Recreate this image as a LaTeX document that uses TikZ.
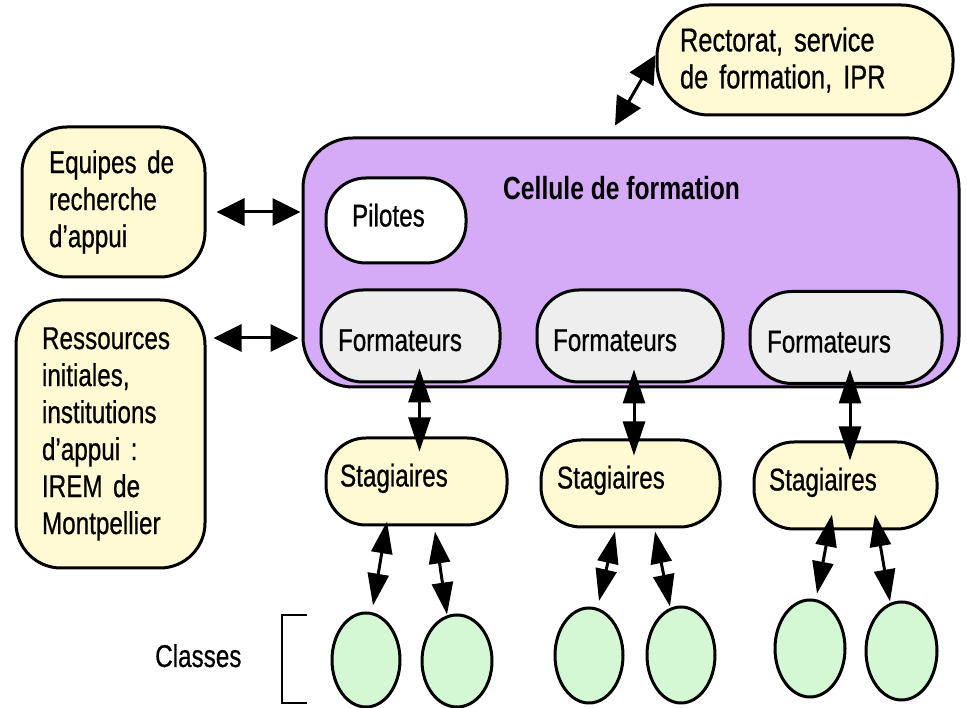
\documentclass[tikz,border=0pt]{standalone}
\usepackage{fontspec}
\setmainfont{Liberation Sans}[FakeStretch=0.77]
\newfontfamily\heavy{Liberation Sans}[FakeStretch=0.77,FakeBold=0.6]
\usetikzlibrary{arrows.meta,shapes.geometric}
\definecolor{creme}{RGB}{255,250,212}
\definecolor{lilas}{RGB}{213,170,247}
\definecolor{gris}{RGB}{238,238,238}
\definecolor{vert}{RGB}{212,248,212}
\tikzset{
  txt/.style={font=\heavy\fontsize{31.5}{37}\selectfont},
  box/.style={txt, draw=black, line width=3pt, align=left, inner ysep=0pt},
  onel/.style={text height=#1, text depth=0pt},
  arrH/.style={line width=3pt, {Triangle[length=28pt,width=27pt]}-{Triangle[length=28pt,width=27pt]}},
  arrV/.style={line width=3pt, {Triangle[length=34pt,width=22pt]}-{Triangle[length=34pt,width=22pt]}},
  arrS/.style={line width=3pt, {Triangle[length=32pt,width=21pt]}-{Triangle[length=32pt,width=21pt]}},
  classe/.style={ellipse, draw=black, line width=3pt, fill=vert, inner sep=0pt},
}
\begin{document}
\begin{tikzpicture}[x=1pt,y=1pt]
\useasboundingbox (0,0) rectangle (967,708);

% main cell
\node[box, fill=lilas, rounded corners=50pt, minimum width=656pt, minimum height=249pt] (cellule) at (631,445.5) {};
\node[font=\bfseries\fontsize{32}{37}\selectfont, anchor=base west, inner sep=0pt] (titre) at (503,508) {Cellule de formation};

\node[box, fill=white, rounded corners=40pt, minimum width=140pt, minimum height=85pt, inner xsep=26pt, text width=88pt, text height=22pt, text depth=10pt] (pil) at (396,487.5) {Pilotes};

\node[box, fill=gris, rounded corners=42pt, minimum width=179pt, minimum height=92pt, inner xsep=17pt, text width=145pt, onel=30pt] (form1) at (410.5,372) {Formateurs};
\node[box, fill=gris, rounded corners=42pt, minimum width=186pt, minimum height=92pt, inner xsep=16pt, text width=154pt, onel=30pt] (form2) at (630,372) {Formateurs};
\node[box, fill=gris, rounded corners=42pt, minimum width=192pt, minimum height=92pt, inner xsep=17pt, text width=158pt, onel=30pt] (form3) at (846,370.5) {Formateurs};

% stagiaires
\node[box, fill=creme, rounded corners=40pt, minimum width=181pt, minimum height=87pt, inner xsep=14pt, text width=153pt, text height=20pt, text depth=10pt] (st1) at (416.5,226.5) {Stagiaires};
\node[box, fill=creme, rounded corners=40pt, minimum width=179pt, minimum height=87pt, inner xsep=16pt, text width=147pt, text height=20pt, text depth=10pt] (st2) at (630.5,224.5) {Stagiaires};
\node[box, fill=creme, rounded corners=40pt, minimum width=183pt, minimum height=87pt, inner xsep=15pt, text width=153pt, text height=20pt, text depth=10pt] (st3) at (845.5,222.5) {Stagiaires};

% left boxes
\node[box, fill=creme, rounded corners=45pt, minimum width=183pt, minimum height=150pt, inner xsep=27pt, text width=129pt] (equipes) at (113.5,506) {Equipes de\\recherche\\d’appui};
\node[box, fill=creme, rounded corners=45pt, minimum width=189pt, minimum height=268pt, inner xsep=26pt, text width=137pt] (ress) at (110.5,274) {Ressources\\initiales,\\institutions\\d’appui :\\IREM de\\Montpellier};
\node[box, font=\heavy\fontsize{33}{37}\selectfont, fill=creme, rounded corners=52pt, minimum width=296pt, minimum height=110pt, inner xsep=23pt, text width=250pt] (rect) at (805,648) {Rectorat, service\\de formation, IPR};

% classes
\node[classe, minimum width=68pt, minimum height=94pt] (c1) at (366,48) {};
\node[classe, minimum width=70pt, minimum height=92pt] (c2) at (457,47) {};
\node[classe, minimum width=68pt, minimum height=95pt] (c3) at (589,52.5) {};
\node[classe, minimum width=68pt, minimum height=96pt] (c4) at (681,53) {};
\node[classe, minimum width=70pt, minimum height=97pt] (c5) at (810,59.5) {};
\node[classe, minimum width=71pt, minimum height=98pt] (c6) at (901.5,57) {};

\node[txt, anchor=base west, inner sep=0pt] (classes) at (155,41) {Classes};
\draw[line width=2.5pt] (307,93) -- (282,93) -- (282,5) -- (307,5);

% connectors
\draw[arrH] ([shift={(10,-10)}]equipes.east) -- ([shift={(-1,50.5)}]cellule.west);
\draw[arrH] ([shift={(7,96)}]ress.east) -- ([shift={(-3,-75.5)}]cellule.west);
\draw[arrH] ([shift={(0,5)}]rect.west) -- ([shift={(-16,11)}]cellule.north);

\draw[arrV] ([shift={(9,15)}]form1.south) -- ([shift={(3,-15)}]st1.north);
\draw[arrV] ([shift={(4,14)}]form2.south) -- ([shift={(3.5,-17)}]st2.north);
\draw[arrV] ([shift={(4,15.5)}]form3.south) -- ([shift={(4.5,-20)}]st3.north);

\draw[arrS] ([shift={(-29.5,5)}]st1.south) -- ([shift={(7,6)}]c1.north);
\draw[arrS] ([shift={(18.5,-5)}]st1.south) -- ([shift={(-10,-1)}]c2.north);
\draw[arrS] ([shift={(-15.5,-3)}]st2.south) -- ([shift={(10,5.5)}]c3.north);
\draw[arrS] ([shift={(24.5,-3)}]st2.south) -- ([shift={(-11,-1)}]c4.north);
\draw[arrS] ([shift={(-13.5,16)}]st3.south) -- ([shift={(7,5)}]c5.north);
\draw[arrS] ([shift={(29.5,16)}]st3.south) -- ([shift={(-11.5,-1)}]c6.north);
\end{tikzpicture}
\end{document}
